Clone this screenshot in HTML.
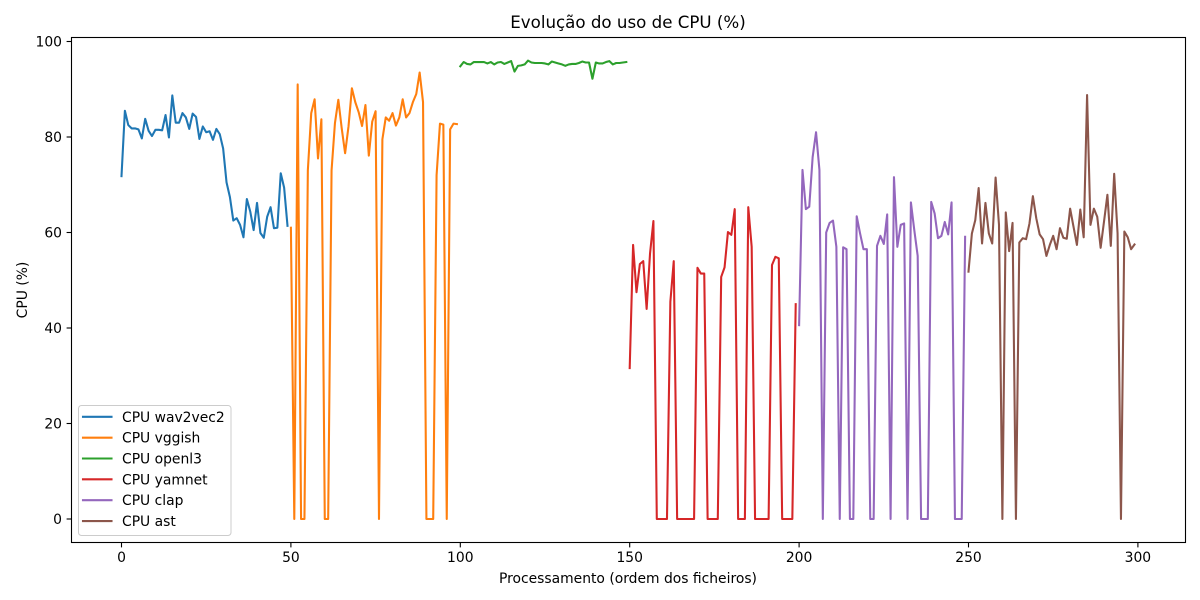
<!DOCTYPE html>
<html lang="pt">
<head>
<meta charset="utf-8">
<title>Evolução do uso de CPU (%)</title>
<style>
html,body{margin:0;padding:0;background:#fff;}
svg{display:block;}
text{font-family:"DejaVu Sans","Liberation Sans",sans-serif;fill:#000;}
</style>
</head>
<body>
<svg id="chart" xmlns="http://www.w3.org/2000/svg" width="1200" height="600" viewBox="0 0 1200 600">
  <rect x="0" y="0" width="1200" height="600" fill="#fff"/>
  <text x="628" y="28" font-size="16.67" text-anchor="middle">Evolução do uso de CPU (%)</text>
  <text x="628" y="583" font-size="13.89" text-anchor="middle">Processamento (ordem dos ficheiros)</text>
  <text transform="translate(27 290) rotate(-90)" font-size="13.89" text-anchor="middle">CPU (%)</text>
  <g id="ticks"></g>
  <g id="series"></g>
  <rect x="71.5" y="37.5" width="1114" height="505" fill="none" stroke="#000" stroke-width="1.1"/>
  <g id="legend">
    <rect x="78.5" y="405.5" width="152.5" height="130" rx="3" ry="3" fill="#fff" fill-opacity="0.8" stroke="#ccc" stroke-width="1"/>
  </g>
</svg>
<script>
const seriesNames = ["CPU wav2vec2", "CPU vggish", "CPU openl3", "CPU yamnet", "CPU clap", "CPU ast"];
const seriesColors = ["#1f77b4", "#ff7f0e", "#2ca02c", "#d62728", "#9467bd", "#8c564b"];
const cpuWav2vec2 = [71.8,85.5,82.5,81.8,81.8,81.6,79.7,83.8,81.3,80.2,81.5,81.5,81.4,84.6,79.9,88.7,83,83,85,84.1,81.7,84.9,84.2,79.6,82.2,81,81.2,79.4,81.7,80.6,77.6,70.5,67.4,62.5,63,61.6,59,67,64.4,60.5,66.2,59.9,58.9,63.3,65.3,60.9,61,72.4,69.4,61.4];
const cpuVggish = [61,0,91,0,0,73,85,87.9,75.5,83.7,0,0,73,82.9,87.8,81.8,76.6,82.2,90.2,87.3,85.2,82.3,86.7,76.1,83.2,85.4,0,79.5,84.1,83.4,85,82.4,84.1,87.9,84.1,85,87.3,89,93.5,87.3,0,0,0,72,82.8,82.6,0,81.6,82.8,82.7];
const cpuOpenl3 = [94.8,95.7,95.3,95.2,95.7,95.7,95.7,95.7,95.4,95.7,95.2,95.6,95.7,95.3,95.6,95.9,93.7,94.9,95,95.2,96,95.6,95.5,95.5,95.5,95.4,95.2,95.8,95.6,95.4,95.2,94.9,95.2,95.3,95.3,95.5,95.8,95.6,95.6,92.2,95.6,95.4,95.4,95.7,95.9,95.2,95.5,95.5,95.6,95.7];
const cpuYamnet = [31.6,57.4,47.5,53.4,54,44,55.6,62.4,0,0,0,0,45.5,54,0,0,0,0,0,0,52.6,51.4,51.4,0,0,0,0,50.7,52.7,60.1,59.5,64.9,0,0,0,65.3,57,0,0,0,0,0,53.2,54.9,54.6,0,0,0,0,45];
const cpuClap = [40.6,73.1,64.9,65.4,75.8,81,73.1,0,60,62,62.5,57,0,56.9,56.5,0,0,63.4,59.8,56.5,56.5,0,0,57.2,59.3,57.6,63.8,0,71.6,57,61.6,61.9,0,66.3,60.5,55.1,0,0,0,66.4,64,58.8,59.3,62.2,59.6,66.3,0,0,0,59.1];
const cpuAst = [51.8,59.8,62.6,69.3,57.7,66.2,59.8,57.7,71.5,61.6,0,64.2,56.1,62,0,57.9,58.8,58.6,61.9,67.6,63,59.6,58.6,55.1,57.4,59.3,56.5,60.9,58.9,58.7,65,61.2,57.4,64.8,59,88.8,61.6,65,63.3,56.8,62.3,67.9,57.2,72.3,59.8,0,60.2,59,56.5,57.5];
const xTickLabels = [0, 50, 100, 150, 200, 250, 300];
const yTickLabels = [0, 20, 40, 60, 80, 100];

const SVG_NS = "http://www.w3.org/2000/svg";
function xScale(v) { return 121.5 + v * 3.388; }
function yScale(v) { return 519 - v * 4.775; }
function make(tag, attrs, parent) {
  const el = document.createElementNS(SVG_NS, tag);
  for (const k in attrs) el.setAttribute(k, attrs[k]);
  parent.appendChild(el);
  return el;
}

const ticksGroup = document.getElementById("ticks");
xTickLabels.forEach(function (v) {
  const px = xScale(v);
  const mark = make("line", { x1: px, x2: px, y1: 542.5, y2: 547.4, stroke: "#000", "stroke-width": 1.1 }, ticksGroup);
  
  
  const label = make("text", { x: px, y: 562, "font-size": 13.89, "text-anchor": "middle" }, ticksGroup);
  label.textContent = String(v);
  
  
});
yTickLabels.forEach(function (v) {
  const py = yScale(v);
  const mark = make("line", { x1: 66.6, x2: 71.5, y1: py, y2: py, stroke: "#000", "stroke-width": 1.1 }, ticksGroup);
  
  
  const label = make("text", { x: 62, y: py + 5, "font-size": 13.89, "text-anchor": "end" }, ticksGroup);
  label.textContent = String(v);
  
  
});

const seriesValues = [cpuWav2vec2, cpuVggish, cpuOpenl3, cpuYamnet, cpuClap, cpuAst];
const seriesGroup = document.getElementById("series");
let startIndex = 0;
seriesValues.forEach(function (values, s) {
  const first = startIndex;
  const pts = values.map(function (v, i) {
    return xScale(first + i).toFixed(2) + "," + yScale(v).toFixed(2);
  }).join(" ");
  const line = make("polyline", {
    points: pts,
    fill: "none",
    stroke: seriesColors[s],
    "stroke-width": 2.08,
    "stroke-linejoin": "round",
    "stroke-linecap": "square"
  }, seriesGroup);
  
  
  startIndex += values.length;
});

const legendGroup = document.getElementById("legend");
seriesNames.forEach(function (name, i) {
  const rowY = 416.8 + i * 20.85;
  const swatch = make("line", { x1: 83, x2: 111.5, y1: rowY, y2: rowY, stroke: seriesColors[i], "stroke-width": 2.08, "stroke-linecap": "square" }, legendGroup);
  
  
  const label = make("text", { x: 122, y: rowY + 5, "font-size": 13.89 }, legendGroup);
  label.textContent = name;
  
  
});
</script>
</body>
</html>
